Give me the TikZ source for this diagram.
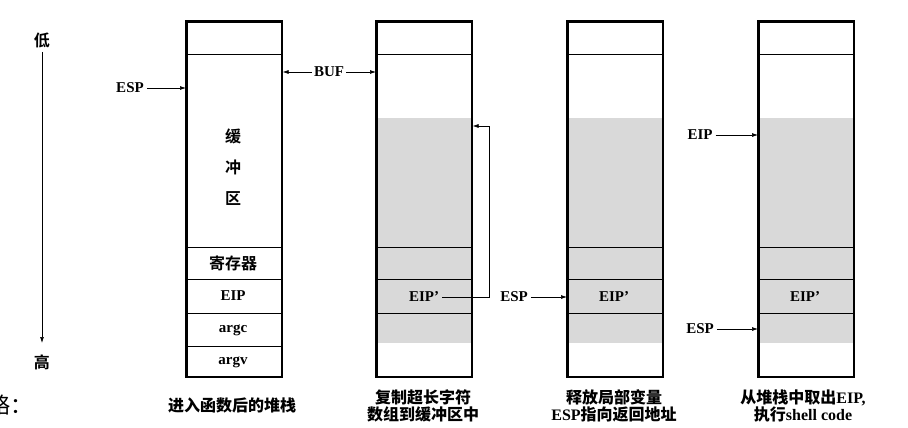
\documentclass[tikz,border=0pt]{standalone}
\usepackage{fontspec}
\setmainfont{Liberation Serif}
\newfontfamily\cjk{Noto Sans CJK SC Bold}
\newfontfamily\cjkr{Noto Sans CJK SC}
\usetikzlibrary{arrows.meta,calc}
\begin{document}
\begin{tikzpicture}[x=1pt,y=-1pt,
  stackbox/.style={draw=black,line width=1.6pt,minimum width=95pt,minimum height=355pt,inner sep=0pt,anchor=north west},
  cellline/.style={line width=0.8pt},
  lab/.style={font=\fontsize{15}{15}\selectfont\bfseries,inner sep=3pt},
  clab/.style={font=\fontsize{16}{16}\selectfont\cjk,inner sep=1pt},
  captext/.style={font=\fontsize{16}{16.5}\selectfont\bfseries,align=center,inner sep=0pt},
  arr/.style={-{Latex[length=6pt,width=4pt]},line width=0.7pt}]
\useasboundingbox (0,0) rectangle (908,428);
\fill[white] (0,0) rectangle (908,428);

% gray regions
\foreach \x in {376,567,758}{
  \fill[black!15] (\x,118) rectangle (\x+95,343);
}
% stacks
\node[stackbox] (s1) at (186,21) {};
\node[stackbox] (s2) at (376,21) {};
\node[stackbox] (s3) at (567,21) {};
\node[stackbox] (s4) at (758,21) {};
\foreach \s in {s1,s2,s3,s4}{
  \foreach \y in {54,247,279,313}{
    \draw[cellline] (\s.west |- 0,\y) -- (\s.east |- 0,\y);
  }
}
\draw[cellline] (s1.west |- 0,346) -- (s1.east |- 0,346);
\foreach \s in {s1,s2,s3,s4}{
  \draw[line width=1.6pt] (\s.north west) rectangle (\s.south east);
}

% axis
\node[clab] (low) at (42,40) {低};
\node[clab] (high) at (42,362) {高};
\draw[arr] (42,52) -- (42,343);

% stack 1 contents
\node[clab] (c1) at (233,136) {缓};
\node[clab] (c2) at (233,167) {冲};
\node[clab] (c3) at (233,199) {区};
\node[clab] (reg) at (233,263) {寄存器};
\node[lab] (eip1) at (233,296) {EIP};
\node[lab] (argc) at (233,330) {argc};
\node[lab] (argv) at (233,362) {argv};

% ESP stack 1
\node[lab] (esp1) at (130,88) {ESP};
\draw[arr] (esp1.east) -- (esp1 -| s1.west);

% BUF
\node[lab,inner sep=2pt] (buf) at (329,72) {BUF};
\draw[arr] (buf.west) -- (buf -| s1.east);
\draw[arr] (buf.east) -- (buf -| s2.west);

% stack 2
\node[lab] (eip2) at (424,297) {EIP’};
\coordinate (br1) at (489,297);
\coordinate (br2) at (489,126);
\draw[arr] (eip2.east) -- (br1) -- (br2) -- (br2 -| s2.east);

% stack 3
\node[lab] (eip3) at (614,297) {EIP’};
\node[lab] (esp3) at (514,297) {ESP};
\draw[arr] (esp3.east) -- (esp3 -| s3.west);

% stack 4
\node[lab] (eip4) at (805,297) {EIP’};
\node[lab] (eipa) at (700,135) {EIP};
\draw[arr] (eipa.east) -- (eipa -| s4.west);
\node[lab] (esp4) at (700,329) {ESP};
\draw[arr] (esp4.east) -- (esp4 -| s4.west);

% captions
\node[captext] (cap1) at (232,405) {{\cjk 进入函数后的堆栈}};
\node[captext] (cap2) at (423,406) {{\cjk 复制超长字符}\\{\cjk 数组到缓冲区中}};
\node[captext] (cap3) at (614,406) {{\cjk 释放局部变量}\\ESP{\cjk 指向返回地址}};
\node[captext] (cap4) at (803,406) {{\cjk 从堆栈中取出}EIP,\\{\cjk 执行}shell code};

% cut-off text at bottom left
\node[font=\fontsize{22}{22}\selectfont\cjkr,anchor=base west,inner sep=0pt] (lue) at (-12,413) {略：};
\end{tikzpicture}
\end{document}
